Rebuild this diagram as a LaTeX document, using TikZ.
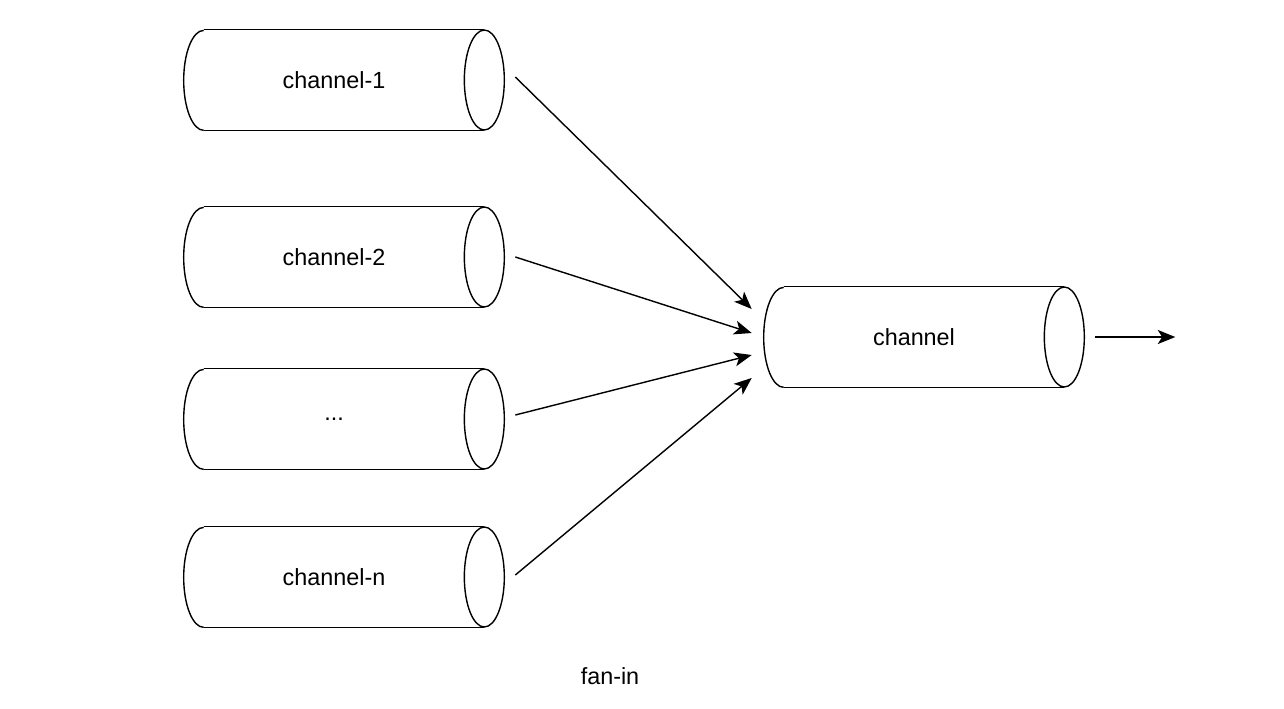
\documentclass[tikz,border=0pt]{standalone}
\usepackage{fontspec}
\setmainfont{Liberation Sans}
\usetikzlibrary{arrows.meta,calc,positioning}
\definecolor{Ink}{HTML}{000000}

\begin{document}
\begin{tikzpicture}[x=0.02cm,y=-0.02cm,font=\fontsize{13.3}{16}\selectfont,
  chan/.style={rectangle,minimum width=6cm,minimum height=2cm,inner sep=0pt},
  rim/.style={draw=Ink,line width=0.8pt},
  flow/.style={-{Stealth[length=10pt,width=8pt,inset=2.5pt]},line width=0.8pt,Ink}]
\useasboundingbox (0,0) rectangle (1284,708);

% Input channels.
\node[chan] (c1) at (334,80) {channel-1};
\node[chan] (c2) at (334,257) {channel-2};
\node[chan] (c3) at (334,419) {...};
\node[chan] (c4) at (334,577) {channel-n};

% Merged channel.
\node[chan] (ch) at (914,337) {channel};

% Cylinder outlines round every channel.
\foreach \n in {c1,c2,c3,c4,ch} {
  \draw[rim] ($(\n.north west)+(20,0)$) -- (\n.north east)
    ($(\n.south west)+(20,0)$) -- (\n.south east);
  \draw[rim] (\n.east) ellipse [x radius=0.4cm,y radius=1cm];
  \draw[rim] ($(\n.south west)+(20,0)$)
    arc[start angle=270,end angle=90,x radius=0.4cm,y radius=1cm];
}

% Fan-in connectors.
\foreach \src/\sy/\dy in {c1/-3/-28,c2/0/-4,c3/-4/18,c4/-2/41}
  \draw[flow] ($(\src.east)+(31,\sy)$) -- ($(ch.west)+(-12,\dy)$);

\coordinate (out) at ($(ch.east)+(111,0)$);
\draw[flow] ($(ch.east)+(31,0)$) -- (out);

\node (cap) at (610,676) {fan-in};
\end{tikzpicture}
\end{document}
